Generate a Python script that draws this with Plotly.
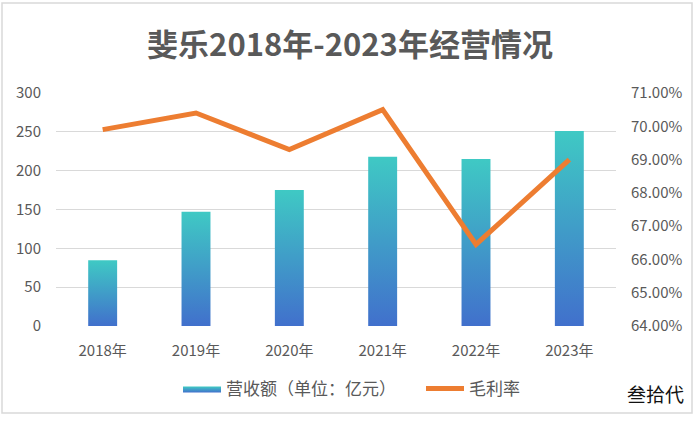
import plotly.graph_objects as go

# --- 数据 ---
years = ["2018年", "2019年", "2020年", "2021年", "2022年", "2023年"]
revenue = [84.5, 147, 175, 218, 215, 251]          # 营收额（亿元）
gross_margin = [0.699, 0.704, 0.693, 0.705, 0.6645, 0.690]  # 毛利率

left_ticks = [0, 50, 100, 150, 200, 250, 300]
right_ticks = [0.64, 0.65, 0.66, 0.67, 0.68, 0.69, 0.70, 0.71]

FONT = "Noto Sans CJK SC"
GREY = "#595959"
BAR_HALF = 0.155
BAR_SCALE = [[0, "#4170cc"], [1, "#3fc9c4"]]

fig = go.Figure()

# 渐变柱（用填充多边形实现）
for i, v in enumerate(revenue):
    fig.add_trace(go.Scatter(
        x=[i - BAR_HALF, i - BAR_HALF, i + BAR_HALF, i + BAR_HALF],
        y=[0, v, v, 0],
        mode="lines", fill="toself",
        line=dict(width=0, color="rgba(0,0,0,0)"),
        fillgradient=dict(type="vertical", colorscale=BAR_SCALE),
        name="营收额（单位：亿元）",
        legendgroup="rev", showlegend=(i == 0),
        hoverinfo="skip",
    ))

# 毛利率折线
fig.add_trace(go.Scatter(
    x=list(range(len(years))), y=gross_margin, yaxis="y2",
    mode="lines", name="毛利率",
    line=dict(color="#ED7D31", width=5),
))

fig.add_annotation(
    text="叁拾代", xref="paper", yref="paper",
    x=(655 - 56) / 560, y=(326 - 393) / 233,
    xanchor="center", yanchor="middle", showarrow=False,
    font=dict(family=FONT, size=19, color="#111111"),
)

# 外框
fig.add_shape(
    type="rect", xref="paper", yref="paper",
    x0=(2 - 56) / 560, x1=(692 - 56) / 560,
    y0=(326 - 413) / 233, y1=(326 - 3) / 233,
    line=dict(color="#d9d9d9", width=1.5), layer="below",
)

fig.update_layout(
    width=700, height=421,
    margin=dict(l=56, r=84, t=93, b=95, autoexpand=False),
    paper_bgcolor="white", plot_bgcolor="white",
    font=dict(family=FONT, size=15, color=GREY),
    title=dict(
        text="<b>斐乐2018年-2023年经营情况</b>",
        x=0.5, xref="container", xanchor="center",
        y=1 - 45 / 421, yref="container", yanchor="middle",
        font=dict(family=FONT, size=31, color=GREY),
    ),
    xaxis=dict(
        range=[-0.5, 5.5], tickvals=list(range(len(years))), ticktext=years,
        showgrid=False, zeroline=False, showline=False, ticks="",
        ticklabelstandoff=14, tickfont=dict(size=15, color=GREY),
    ),
    yaxis=dict(
        range=[0, 300], tickvals=left_ticks,
        showgrid=True, gridcolor="#d9d9d9", gridwidth=1,
        zeroline=False, showline=False, ticks="",
        ticklabelstandoff=14, tickfont=dict(size=15, color=GREY),
    ),
    yaxis2=dict(
        overlaying="y", side="right", range=[0.64, 0.71],
        tickvals=right_ticks, tickformat=".2%",
        showgrid=False, zeroline=False, showline=False, ticks="",
        ticklabelstandoff=14, tickfont=dict(size=15, color=GREY),
    ),
    legend=dict(
        orientation="h", xanchor="left", yanchor="middle",
        x=(178 - 56) / 560, y=(326 - 389) / 233,
        itemwidth=38, entrywidth=190, entrywidthmode="pixels",
        font=dict(family=FONT, size=17, color=GREY),
        bgcolor="rgba(0,0,0,0)",
    ),
    showlegend=True,
)

fig.write_html(
    "out.html",
    config={"displayModeBar": False},
    post_script="document.body.style.margin='0';",
)
